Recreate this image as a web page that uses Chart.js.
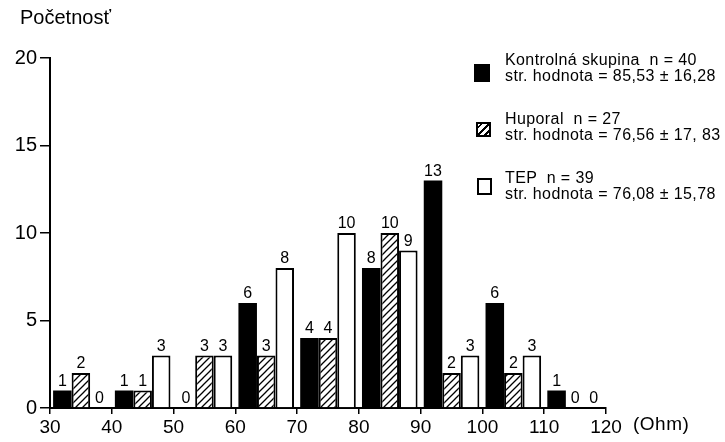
<!DOCTYPE html>
<html>
<head>
<meta charset="utf-8">
<script src="https://cdn.jsdelivr.net/npm/chart.js@4"></script>
<style>
    body { margin: 0; background: #fff; }
    #wrap { position: relative; width: 725px; height: 442px; font-family: 'Liberation Sans', Arial, sans-serif; color: #000; }
    .title { position: absolute; left: 20px; top: 6px; font-size: 20px; }
    .unit { position: absolute; left: 633px; top: 413px; font-size: 19px; letter-spacing: 0.5px; }
    .legend { position: absolute; left: 505px; font-size: 16px; line-height: 16px; letter-spacing: 0.4px; white-space: pre; }
    .sw { position: absolute; box-sizing: border-box; }
</style>
</head>
<body>
<div id="wrap">
    <canvas id="histChart" width="725" height="442"></canvas>
    <div class="title">Početnosť</div>

    <!-- legenda -->
    <div class="sw" style="left:474px;top:64px;width:16px;height:18px;background:#000;"></div>
    <div class="legend" style="top:52px;">Kontrolná skupina  n = 40<br>str. hodnota = 85,53 ± 16,28</div>

    <div class="sw" style="left:476px;top:122px;width:15px;height:15px;border:2px solid #000;
        background:repeating-linear-gradient(135deg,#fff 0 2px,#000 2px 3.5px,#fff 3.5px 5px);"></div>
    <div class="legend" style="top:111px;">Huporal  n = 27<br>str. hodnota = 76,56 ± 17, 83</div>

    <div class="sw" style="left:477px;top:178px;width:15px;height:17px;border:2px solid #000;background:#fff;"></div>
    <div class="legend" style="top:170px;">TEP  n = 39<br>str. hodnota = 76,08 ± 15,78</div>

    <div class="unit">(Ohm)</div>
</div>

<script>
// ===== dáta =====
const bins = [30, 40, 50, 60, 70, 80, 90, 100, 110];      // začiatky intervalov (Ohm)
const kontrolna = [1, 1, 0, 6, 4, 8, 13, 6, 1];           // n = 40
const huporal   = [2, 1, 3, 3, 4, 10, 2, 2, 0];           // n = 27
const tep       = [0, 3, 3, 8, 10, 9, 3, 3, 0];           // n = 39
const yTicks = [0, 5, 10, 15, 20];

Chart.defaults.font.family = "'Liberation Sans', Arial, sans-serif";
Chart.defaults.color = '#000';

const canvas = document.getElementById('histChart');
const ctx = canvas.getContext('2d');

// šrafovanie pre Huporal
function makeHatch() {
    const c = document.createElement('canvas');
    c.width = 7; c.height = 7;
    const g = c.getContext('2d');
    g.fillStyle = '#fff';
    g.fillRect(0, 0, 7, 7);
    g.strokeStyle = '#000';
    g.lineWidth = 1.3;
    g.beginPath();
    g.moveTo(-1, 8); g.lineTo(8, -1);
    g.moveTo(-1, 1); g.lineTo(1, -1);
    g.moveTo(6, 8); g.lineTo(8, 6);
    g.stroke();
    return ctx.createPattern(c, 'repeat');
}

// čísla nad stĺpcami
const valueLabels = {
    id: 'valueLabels',
    afterDatasetsDraw(chart) {
        const c = chart.ctx;
        c.save();
        c.font = "16px 'Liberation Sans', Arial, sans-serif";
        c.fillStyle = '#000';
        c.textAlign = 'center';
        c.textBaseline = 'bottom';
        chart.data.datasets.forEach((ds, i) => {
            chart.getDatasetMeta(i).data.forEach((bar, j) => {
                c.fillText(ds.data[j], bar.x, bar.y - 1);
            });
        });
        c.restore();
    }
};

const histChart = new Chart(ctx, {
    type: 'bar',
    data: {
        labels: bins,
        datasets: [
            {
                label: 'Kontrolná skupina',
                data: kontrolna,
                backgroundColor: '#000',
                borderWidth: 0
            },
            {
                label: 'Huporal',
                data: huporal,
                backgroundColor: makeHatch(),
                borderColor: '#000',
                borderWidth: 2
            },
            {
                label: 'TEP',
                data: tep,
                backgroundColor: '#fff',
                borderColor: '#000',
                borderWidth: 2
            }
        ]
    },
    options: {
        responsive: false,
        animation: false,
        categoryPercentage: 0.9,
        barPercentage: 1.0,
        layout: { padding: { top: 58, right: 119, left: 0, bottom: 0 } },
        plugins: {
            legend: { display: false },
            tooltip: { enabled: false }
        },
        scales: {
            x: { display: false },
            // os s delením na hranách intervalov
            x2: {
                type: 'linear',
                position: 'bottom',
                min: 30,
                max: 120,
                offset: false,
                afterFit(scale) { scale.height = 34; },
                ticks: { stepSize: 10, padding: 2, font: { size: 19 } },
                grid: { offset: false, drawOnChartArea: false, color: '#000', lineWidth: 1.5, tickLength: 6 },
                border: { color: '#000', width: 2 }
            },
            y: {
                min: 0,
                max: 20,
                afterFit(scale) { scale.width = 50; },
                afterBuildTicks(scale) { scale.ticks = yTicks.map(v => ({ value: v })); },
                ticks: { padding: 3, font: { size: 20 } },
                grid: { drawOnChartArea: false, color: '#000', lineWidth: 1.5, tickLength: 10 },
                border: { color: '#000', width: 2 }
            }
        }
    },
    plugins: [valueLabels]
});
</script>
</body>
</html>
